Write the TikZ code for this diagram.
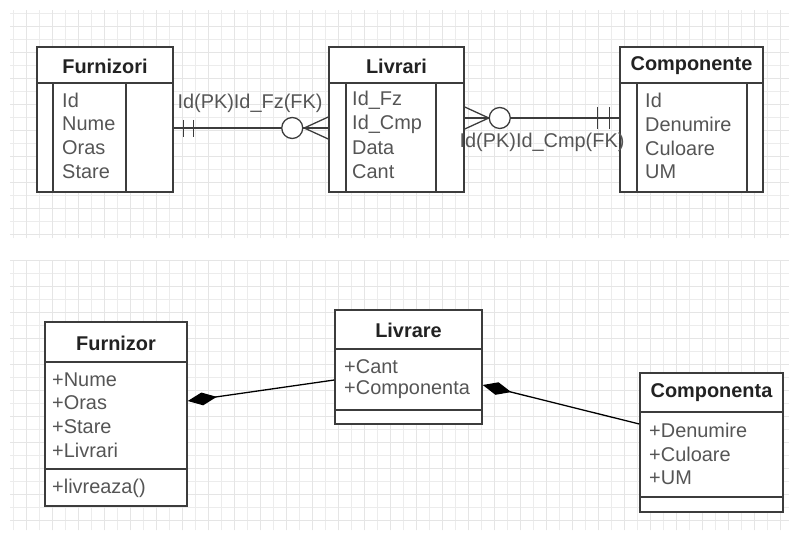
\documentclass[tikz,border=0pt]{standalone}
\usepackage{fontspec}
\setmainfont{Liberation Sans}
\usetikzlibrary{positioning,arrows.meta,calc}
\definecolor{linec}{RGB}{60,60,60}
\definecolor{txtc}{RGB}{85,85,85}
\definecolor{hdrc}{RGB}{34,34,34}
\definecolor{gridc}{RGB}{236,236,236}
\tikzset{
  ebox/.style 2 args={draw=linec,line width=1.3pt,fill=white,minimum width=#1*0.3mm,minimum height=#2*0.3mm,inner sep=0pt},
  hdr/.style={font=\fontsize{17}{20}\selectfont\bfseries,text=hdrc,inner sep=0pt},
  fld/.style={font=\fontsize{17}{20}\selectfont,text=txtc,anchor=west,inner sep=0pt},
  rel/.style={draw=linec,line width=1.1pt},
  circ/.style={circle,draw=linec,line width=1.1pt,fill=white,minimum size=0.63cm,inner sep=0pt},
  comp/.style={draw=black,line width=1.1pt,-{Diamond[length=25pt,width=11pt]}},
  gridln/.style={gridc,line width=0.4pt}
}
\begin{document}
\begin{tikzpicture}[x=0.03cm,y=-0.03cm]
  \useasboundingbox[fill=white] (0,0) rectangle (789,541);
  % background grid
  \draw[gridln,step=0.39cm] (10,10) grid (789,238);
  \draw[gridln,step=0.39cm] (10,260) grid (789,530);
  \draw[gridln,gray!20,step=0.78cm] (10,10) grid (789,238);
  \draw[gridln,gray!20,step=0.78cm] (10,260) grid (789,530);
  % entity tables
  \node[ebox={136}{145}] (furni) at (105,119.5) {};
  \node[ebox={135}{145}] (livri) at (396.5,119.5) {};
  \node[ebox={143}{145}] (compe) at (691.5,119.5) {};
  \foreach \b/\l/\r in {furni/53/126,livri/346/436,compe/637/747}{
    \draw[rel,line width=1.3pt] (\b.west |- 0,83) -- (\b.east |- 0,83);
    \draw[rel,line width=1.3pt] (\l,83) -- (\b.south -| \l,0); \draw[rel,line width=1.3pt] (\r,83) -- (\b.south -| \r,0);
  }
  \node[hdr] (furnih) at (105,66) {Furnizori};
  \node[hdr] (livrih) at (396.5,66) {Livrari};
  \node[hdr] (compeh) at (691.5,66) {Componente};
  \foreach \t [count=\i] in {Id,Nume,Oras,Stare} \node[fld] (fa\i) at (62,76+24*\i) {\t};
  \foreach \t [count=\i] in {Id\_Fz,Id\_Cmp,Data,Cant} \node[fld] (la\i) at (352,76+24*\i) {\t};
  \foreach \t [count=\i] in {Id,Denumire,Culoare,UM} \node[fld] (ca\i) at (645,76+24*\i) {\t};
  % relationships
  \coordinate (r1a) at ($(furni.east)+(0,8.5)$); \coordinate (r1b) at ($(livri.west)+(0,8.5)$);
  \draw[rel] (r1a) -- (r1b);
  \draw[rel] ($(r1a)+(10,-8)$) -- ++(0,17); \draw[rel] ($(r1a)+(20,-8)$) -- ++(0,17);
  \draw[rel] ($(r1b)+(-24,0)$) -- ($(r1b)+(0,-11)$); \draw[rel] ($(r1b)+(-24,0)$) -- ($(r1b)+(0,11)$);
  \node[circ] (o1) at ($(r1b)+(-36,0)$) {};
  \node[fld,anchor=center] (lbl1) at (250,103) {Id(PK)Id\_Fz(FK)};
  \coordinate (r2a) at ($(livri.east)+(0,-1.5)$); \coordinate (r2b) at ($(compe.west)+(0,-1.5)$);
  \draw[rel] (r2a) -- (r2b);
  \draw[rel] ($(r2b)+(-10,-11)$) -- ++(0,22); \draw[rel] ($(r2b)+(-22,-11)$) -- ++(0,22);
  \draw[rel] ($(r2a)+(24,0)$) -- ($(r2a)+(0,-11)$); \draw[rel] ($(r2a)+(24,0)$) -- ($(r2a)+(0,11)$);
  \node[circ] (o2) at ($(r2a)+(35,0)$) {};
  \node[fld,anchor=center] (lbl2) at (542,142) {Id(PK)Id\_Cmp(FK)};
  % class diagram
  \node[ebox={142}{184}] (furn) at (116,414) {};
  \node[ebox={147}{114}] (livre) at (408.5,367) {};
  \node[ebox={143}{139}] (compa) at (711.5,442.5) {};
  \foreach \b/\y in {furn/362,furn/469,livre/349,livre/410,compa/412,compa/497}
    \draw[rel,line width=1.3pt] (\b.west |- 0,\y) -- (\b.east |- 0,\y);
  \node[hdr] (furnh) at (116,343) {Furnizor};
  \node[hdr] (livreh) at (408.5,330) {Livrare};
  \node[hdr] (compah) at (711.5,393) {Componenta};
  \foreach \t [count=\i] in {+Nume,+Oras,+Stare,+Livrari} \node[fld] (fb\i) at (52,356+23.5*\i) {\t};
  \node[fld] (fm1) at (52,488) {+livreaza()};
  \foreach \t [count=\i] in {+Cant,+Componenta} \node[fld] (lb\i) at (344,344+23*\i) {\t};
  \foreach \t [count=\i] in {+Denumire,+Culoare,+UM} \node[fld] (cb\i) at (649,407+23.5*\i) {\t};
  \draw[comp] ($(livre.west)+(0,13)$) -- ($(furn.east)+(0,-13)$);
  \draw[comp] ($(compa.west)+(0,-18.5)$) -- ($(livre.east)+(0,18)$);
\end{tikzpicture}
\end{document}
